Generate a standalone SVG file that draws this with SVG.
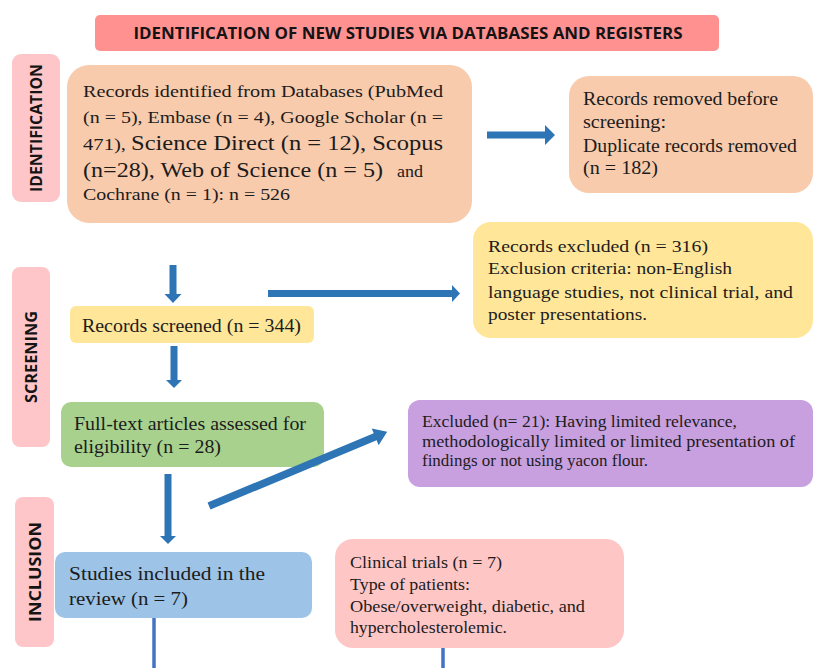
<svg xmlns="http://www.w3.org/2000/svg" width="814" height="668" viewBox="0 0 814 668">
<style>
text{font-family:"Liberation Serif","Times New Roman",serif;fill:#1c1c1c}
.lab{font-family:"Open Sans","Liberation Sans",sans-serif;font-weight:bold;fill:#141414;font-size:16px}
.s17{font-size:17px}.s22{font-size:22px}.s18{font-size:18px}.s175{font-size:17.5px}.s165{font-size:16.5px}.s19{font-size:19px}
.arr{fill:#2E75B6}
.ln{stroke:#4472C4;stroke-width:3.5;fill:none}
</style>
<rect width="814" height="668" fill="#ffffff"/>

<g id="banner">
<rect x="95" y="15" width="624" height="36" rx="5" fill="#FF9191"/>
<text class="lab" x="408" y="39" text-anchor="middle" textLength="549" lengthAdjust="spacingAndGlyphs">IDENTIFICATION  OF NEW STUDIES VIA DATABASES AND REGISTERS</text>
</g>

<g id="label-identification">
<rect x="12" y="54" width="48" height="148" rx="9" fill="#FFC6C9"/>
<text class="lab" transform="translate(36,128) rotate(-90)" y="6" text-anchor="middle" textLength="128" lengthAdjust="spacingAndGlyphs">IDENTIFICATION</text>
</g>
<g id="label-screening">
<rect x="12" y="267" width="38" height="180" rx="8" fill="#FFC6C9"/>
<text class="lab" transform="translate(31,357) rotate(-90)" y="6" text-anchor="middle" textLength="92" lengthAdjust="spacingAndGlyphs">SCREENING</text>
</g>
<g id="label-inclusion">
<rect x="15" y="497" width="39" height="150" rx="8" fill="#FFC6C9"/>
<text class="lab" transform="translate(34.5,572) rotate(-90)" y="6" text-anchor="middle" textLength="100" lengthAdjust="spacingAndGlyphs">INCLUSION</text>
</g>

<g id="records-identified">
<rect x="67" y="65" width="405" height="158" rx="22" fill="#F8CBAD"/>
<g class="s17">
<text x="83" y="97" textLength="360" lengthAdjust="spacingAndGlyphs">Records identified from  Databases (PubMed</text>
<text x="83" y="123" textLength="360" lengthAdjust="spacingAndGlyphs">(n = 5), Embase  (n = 4), Google Scholar (n =</text>
<text x="83" y="150" textLength="43" lengthAdjust="spacingAndGlyphs">471),</text>
<text x="397" y="177" textLength="26" lengthAdjust="spacingAndGlyphs">and</text>
<text x="83" y="200" textLength="207" lengthAdjust="spacingAndGlyphs">Cochrane (n = 1): n = 526</text>
</g>
<g class="s22">
<text x="131" y="150" textLength="312" lengthAdjust="spacingAndGlyphs">Science Direct (n = 12), Scopus</text>
<text x="83" y="177" textLength="300" lengthAdjust="spacingAndGlyphs">(n=28), Web of Science (n = 5)</text>
</g>
</g>

<g id="records-removed" class="s18">
<rect x="569" y="76" width="244" height="117" rx="20" fill="#F8CBAD"/>
<text x="583" y="105" textLength="195" lengthAdjust="spacingAndGlyphs">Records removed before</text>
<text x="583" y="128" textLength="83" lengthAdjust="spacingAndGlyphs">screening:</text>
<text x="583" y="152" textLength="214" lengthAdjust="spacingAndGlyphs">Duplicate records removed</text>
<text x="583" y="174" textLength="75" lengthAdjust="spacingAndGlyphs">(n = 182)</text>
</g>

<g id="records-excluded" class="s175">
<rect x="473" y="222" width="340" height="116" rx="18" fill="#FFE699"/>
<text x="488" y="252" textLength="220" lengthAdjust="spacingAndGlyphs">Records excluded (n = 316)</text>
<text x="488" y="274" textLength="244" lengthAdjust="spacingAndGlyphs">Exclusion  criteria: non-English</text>
<text x="488" y="298" textLength="305" lengthAdjust="spacingAndGlyphs">language  studies, not  clinical trial, and</text>
<text x="488" y="320" textLength="159" lengthAdjust="spacingAndGlyphs">poster presentations.</text>
</g>

<g id="records-screened" class="s18">
<rect x="70" y="306" width="244" height="37" rx="6" fill="#FFE699"/>
<text x="82" y="332" textLength="219" lengthAdjust="spacingAndGlyphs">Records screened (n = 344)</text>
</g>

<g id="full-text" class="s18">
<rect x="61" y="402" width="263" height="65" rx="10" fill="#A9D18E"/>
<text x="74" y="430" textLength="232" lengthAdjust="spacingAndGlyphs">Full-text  articles assessed for</text>
<text x="74" y="453" textLength="147" lengthAdjust="spacingAndGlyphs">eligibility (n = 28)</text>
</g>

<g id="excluded-fulltext" class="s165">
<rect x="408" y="400" width="405" height="87" rx="12" fill="#C8A0E0"/>
<text x="422" y="427" textLength="315" lengthAdjust="spacingAndGlyphs">Excluded (n= 21): Having  limited  relevance,</text>
<text x="422" y="447" textLength="373" lengthAdjust="spacingAndGlyphs">methodologically  limited  or limited  presentation  of</text>
<text x="422" y="466" textLength="226" lengthAdjust="spacingAndGlyphs">findings  or not using  yacon flour.</text>
</g>

<g id="studies-included" class="s19">
<rect x="55" y="552" width="257" height="66" rx="10" fill="#9DC3E6"/>
<text x="69" y="580" textLength="196" lengthAdjust="spacingAndGlyphs">Studies included in  the</text>
<text x="69" y="605" textLength="119" lengthAdjust="spacingAndGlyphs">review (n = 7)</text>
</g>

<g id="clinical-trials" class="s17">
<rect x="335" y="539" width="289" height="109" rx="18" fill="#FFC6C6"/>
<text x="350" y="568" textLength="152" lengthAdjust="spacingAndGlyphs">Clinical  trials  (n = 7)</text>
<text x="350" y="590" textLength="120" lengthAdjust="spacingAndGlyphs">Type of patients:</text>
<text x="350" y="612" textLength="235" lengthAdjust="spacingAndGlyphs">Obese/overweight, diabetic, and</text>
<text x="350" y="633" textLength="157" lengthAdjust="spacingAndGlyphs">hypercholesterolemic.</text>
</g>

<g id="connectors">
<polygon class="arr" points="487,131.5 545,131.5 545,125 555,135 545,145 545,138.5 487,138.5"/>
<polygon class="arr" points="169.5,265 176.5,265 176.5,294 181.5,294 173,303 164.5,294 169.5,294"/>
<polygon class="arr" points="268,290 452,290 452,285 460,293.5 452,302 452,297 268,297"/>
<polygon class="arr" points="170.5,346 177.5,346 177.5,380 182,380 174,388 166,380 170.5,380"/>
<polygon class="arr" points="164.5,474 171.5,474 171.5,536 176,536 168,544 160,536 164.5,536"/>
<polygon class="arr" transform="translate(209,506) rotate(-22.6)" points="0,-3.8 180,-3.8 180,-9 193,0 180,9 180,3.8 0,3.8"/>
<line class="ln" x1="154" y1="618" x2="154" y2="668"/>
<line class="ln" x1="443" y1="648" x2="443" y2="668"/>
</g>
</svg>
